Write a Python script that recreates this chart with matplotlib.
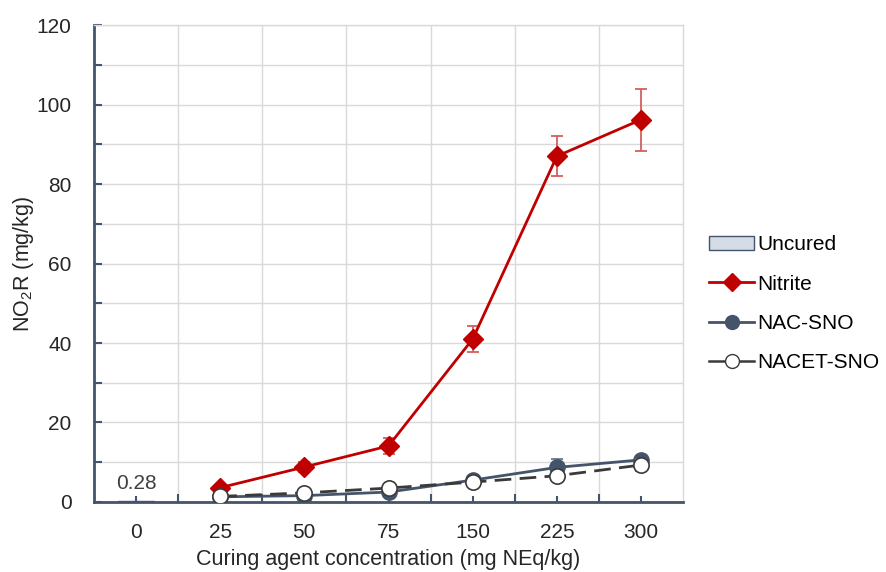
import numpy as np
import matplotlib
matplotlib.use("Agg")
import matplotlib.pyplot as plt
from matplotlib.patches import Patch
from matplotlib.lines import Line2D
from matplotlib.ticker import MultipleLocator, FixedLocator

plt.rcParams['font.family'] = ['Liberation Sans', 'DejaVu Sans']
plt.rcParams['mathtext.fontset'] = 'custom'
plt.rcParams['mathtext.rm'] = 'Liberation Sans'
plt.rcParams['mathtext.it'] = 'Liberation Sans:italic'

# concentrations (mg NEq/kg), plotted as evenly spaced categories
conc_labels = ["0", "25", "50", "75", "150", "225", "300"]

uncured_value = 0.28

nitrite = [3.6, 8.8, 14.1, 41.0, 87.0, 96.2]
nitrite_err = [0.5, 1.3, 2.0, 3.2, 5.0, 7.8]

nac_sno = [1.3, 1.6, 2.5, 5.5, 8.7, 10.6]
nac_sno_err = [0.3, 0.4, 0.5, 1.0, 2.2, 1.0]

nacet_sno = [1.4, 2.3, 3.5, 5.0, 6.6, 9.3]
nacet_sno_err = [0.3, 0.4, 0.5, 0.6, 0.6, 1.5]

red = '#c00000'
slate = '#44546a'
txt = '#262626'

fig = plt.figure(figsize=(8.86, 5.72), dpi=100)
ax = fig.add_axes([0.106, 0.1224, 0.665, 0.8338])

x_all = np.arange(len(conc_labels))
x_cured = x_all[1:]

ax.bar(0, uncured_value, width=0.42, color='#d6dce5', edgecolor=slate,
       linewidth=1.0, zorder=3)
ax.annotate(f"{uncured_value:.2f}", (0, uncured_value), xytext=(0, 6),
            textcoords='offset points', ha='center', va='bottom',
            fontsize=15, color='#404040')

ax.errorbar(x_cured, nitrite, yerr=nitrite_err, color=red, lw=2,
            marker='D', ms=10.5, mfc=red, mec=red, ecolor='#d35f5f',
            elinewidth=1.3, capsize=4, capthick=1.3, zorder=5)
ax.errorbar(x_cured, nac_sno, yerr=nac_sno_err, color=slate, lw=2,
            marker='o', ms=11, mfc=slate, mec=slate, ecolor='#6a7a90',
            elinewidth=1.3, capsize=4, capthick=1.3, zorder=4)
ax.errorbar(x_cured, nacet_sno, yerr=nacet_sno_err, color='#3a3a3a', lw=2,
            ls=(0, (6, 3)), marker='o', ms=11, mfc='white', mec='#3a3a3a',
            mew=1.2, ecolor='#707070', elinewidth=1.3, capsize=4,
            capthick=1.3, zorder=6)

ax.set_xlim(-0.5, len(conc_labels) - 0.5)
ax.set_ylim(0, 120)

ax.set_xticks(x_all)
ax.set_xticklabels(conc_labels, fontsize=15, color=txt)
ax.xaxis.set_minor_locator(FixedLocator(np.arange(0.5, len(conc_labels) - 1, 1)))
ax.yaxis.set_major_locator(MultipleLocator(20))
ax.yaxis.set_minor_locator(MultipleLocator(10))
ax.tick_params(axis='y', labelsize=15, labelcolor=txt)

ax.tick_params(which='both', direction='in', color=slate, width=1.5)
ax.tick_params(axis='x', which='major', length=4, pad=15)
ax.tick_params(axis='x', which='minor', length=6)
ax.tick_params(axis='y', which='both', length=6, pad=16)

ax.grid(True, axis='x', which='minor', color='#d9d9d9', lw=1)
ax.grid(True, axis='y', which='both', color='#d9d9d9', lw=1)
ax.set_axisbelow(True)

for side in ('top', 'right'):
    ax.spines[side].set_color('#d9d9d9')
    ax.spines[side].set_linewidth(1)
for side in ('left', 'bottom'):
    ax.spines[side].set_color(slate)
    ax.spines[side].set_linewidth(2)

ax.set_xlabel("Curing agent concentration (mg NEq/kg)", fontsize=15.5,
              labelpad=5, color=txt)
ax.set_ylabel(r"NO$_2$R (mg/kg)", fontsize=15.5, color=txt)
ax.yaxis.set_label_coords(-0.098, 0.5)

handles = [
    Patch(facecolor='#d6dce5', edgecolor=slate, label='Uncured'),
    Line2D([], [], color=red, lw=2, marker='D', ms=9, mfc=red, mec=red,
           label='Nitrite'),
    Line2D([], [], color=slate, lw=2, marker='o', ms=10, mfc=slate,
           mec=slate, label='NAC-SNO'),
    Line2D([], [], color='#3a3a3a', lw=1.8, marker='o', ms=10, mfc='white',
           mec='#3a3a3a', label='NACET-SNO'),
]
fig.legend(handles=handles, loc='center left', bbox_to_anchor=(0.788, 0.469),
           frameon=False, fontsize=15, handlelength=2.2, handletextpad=0.15,
           labelspacing=0.98, borderpad=0)

fig.savefig("out.png", dpi=100)
